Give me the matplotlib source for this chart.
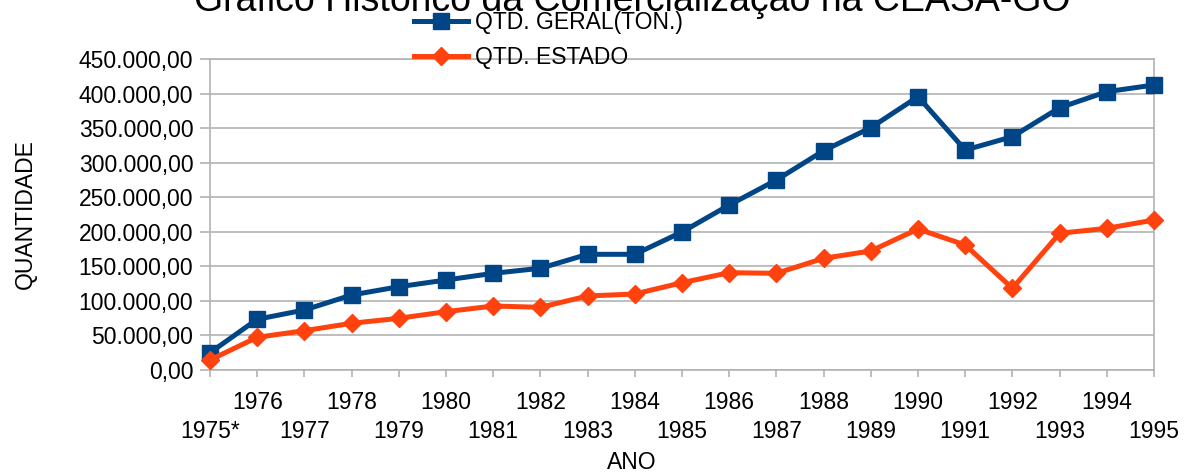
import matplotlib
matplotlib.use("Agg")
import matplotlib.pyplot as plt
from matplotlib.ticker import FuncFormatter, FixedLocator, FixedFormatter

# data
anos = ["1975*", "1976", "1977", "1978", "1979", "1980", "1981", "1982", "1983", "1984",
        "1985", "1986", "1987", "1988", "1989", "1990", "1991", "1992", "1993", "1994", "1995"]
qtd_geral = [25000, 73400, 86800, 108500, 120500, 130200, 139900, 147200, 167400, 167400,
             199700, 238700, 274900, 317300, 350600, 395500, 318300, 337600, 379500, 402700, 412400]
qtd_estado = [14500, 47300, 56900, 67600, 74800, 84400, 92600, 90700, 107100, 110000,
              126300, 140800, 139900, 161600, 172200, 204000, 180900, 118200, 197800, 205000, 217000]

plt.rcParams['font.family'] = ['Liberation Sans', 'DejaVu Sans']

W, H = 1187, 473
fig = plt.figure(figsize=(W / 100, H / 100), dpi=100)
ax = fig.add_axes([210 / W, 1 - 370 / H, (1154 - 210) / W, (370 - 59) / H])

x = list(range(len(anos)))
ax.plot(x, qtd_geral, color='#004586', lw=3.6, marker='s', ms=12,
        label='QTD. GERAL(TON.)', clip_on=False, zorder=3)
ax.plot(x, qtd_estado, color='#ff420e', lw=3.6, marker='D', ms=9,
        label='QTD. ESTADO', clip_on=False, zorder=3)

ax.set_xlim(0, len(anos) - 1)
ax.set_ylim(0, 450000)
ax.set_yticks(range(0, 450001, 50000))

def br_fmt(v, pos):
    s = f"{v:,.2f}"
    return s.replace(",", "X").replace(".", ",").replace("X", ".")

ax.yaxis.set_major_formatter(FuncFormatter(br_fmt))

# staggered year labels: upper row on major ticks, lower row on minor ticks
upper = [i for i in x if i % 2 == 1]
lower = [i for i in x if i % 2 == 0]
ax.xaxis.set_major_locator(FixedLocator(upper))
ax.xaxis.set_major_formatter(FixedFormatter([anos[i] for i in upper]))
ax.xaxis.set_minor_locator(FixedLocator(lower))
ax.xaxis.set_minor_formatter(FixedFormatter([anos[i] for i in lower]))

grid_c = '#b3b3b3'
ax.grid(axis='y', color=grid_c, lw=1.2)
ax.set_axisbelow(True)
for side in ['left', 'right', 'bottom', 'top']:
    ax.spines[side].set_color(grid_c)
    ax.spines[side].set_linewidth(1.2)
ax.tick_params(axis='y', which='both', length=7, width=1.2, color=grid_c, pad=5, labelsize=16.5)
ax.tick_params(axis='x', which='major', length=5, width=1.2, color=grid_c, pad=10, labelsize=16.5)
ax.tick_params(axis='x', which='minor', length=5, width=1.2, color=grid_c, pad=31, labelsize=16.5)

fig.text(25 / W, 1 - 214 / H, 'QUANTIDADE', rotation=90, ha='center', va='center', fontsize=16.5)
fig.text(632 / W, 1 - 462 / H, 'ANO', ha='center', va='center', fontsize=16.5)
fig.text(632 / W, 1 - 11 / H, 'Gráfico Histórico da Comercialização na CEASA-GO',
         ha='center', va='baseline', fontsize=27)

fig.legend(loc='center left', bbox_to_anchor=(414 / W, 1 - 40 / H), frameon=False,
           fontsize=16.5, handlelength=2.35, handletextpad=0.3, labelspacing=0.55,
           borderpad=0, borderaxespad=0)

fig.savefig('out.png', dpi=100)
